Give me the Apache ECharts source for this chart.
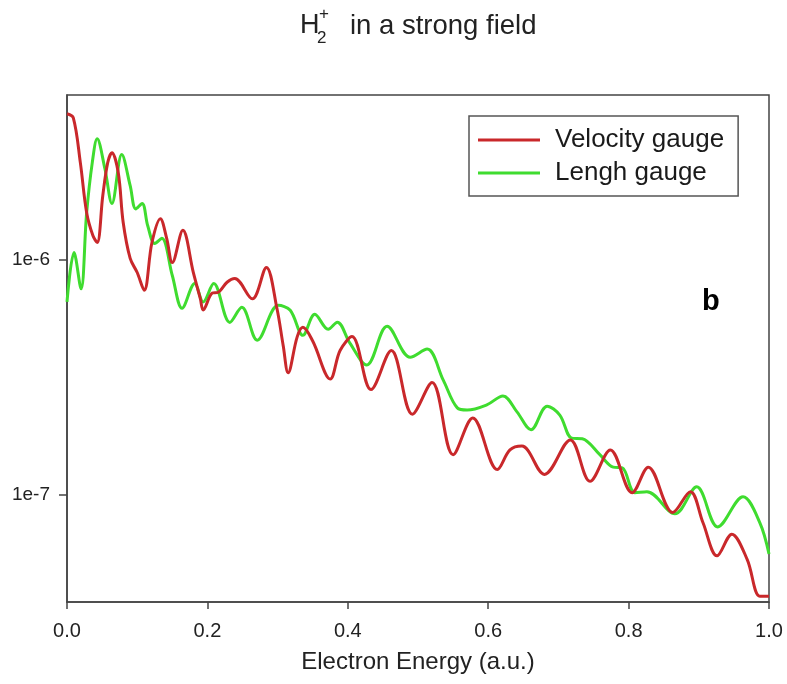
<!DOCTYPE html>
<html>
<head>
<meta charset="utf-8">
<title>H2+ in a strong field</title>
<script src="https://cdn.jsdelivr.net/npm/echarts@6/dist/echarts.min.js"></script>
<style>
  html, body { margin: 0; padding: 0; background: #ffffff; }
  #chart { width: 787px; height: 684px; }
</style>
</head>
<body>
<div id="chart"></div>
<script>
// Photoelectron spectrum of H2+ : velocity vs length gauge (log scale)
const velocityEnergy = [
  0, 0.009, 0.019, 0.028, 0.037, 0.043, 0.051, 0.058, 0.064, 0.073,
  0.080, 0.090, 0.100, 0.110, 0.121, 0.133, 0.142, 0.150, 0.165, 0.180,
  0.190, 0.194, 0.207, 0.215, 0.228, 0.239, 0.264, 0.284, 0.299, 0.308,
  0.315, 0.328, 0.336, 0.350, 0.375, 0.389, 0.406, 0.433, 0.462, 0.492,
  0.520, 0.550, 0.578, 0.613, 0.631, 0.648, 0.680, 0.717, 0.745, 0.774,
  0.805, 0.828, 0.863, 0.888, 0.906, 0.926, 0.947, 0.969, 0.987, 1.0
];
const velocityYield = [
  4.16e-6, 4.0e-6, 2.58e-6, 1.58e-6, 1.26e-6, 1.18e-6, 1.87e-6, 2.58e-6, 2.84e-6, 2.34e-6,
  1.44e-6, 1.01e-6, 8.8e-7, 7.4e-7, 1.18e-6, 1.49e-6, 1.23e-6, 9.7e-7, 1.33e-6, 8.8e-7,
  6.8e-7, 6.1e-7, 7.2e-7, 7.25e-7, 8.0e-7, 8.3e-7, 6.8e-7, 9.25e-7, 6.2e-7, 4.3e-7,
  3.3e-7, 4.7e-7, 5.15e-7, 4.5e-7, 3.1e-7, 4.1e-7, 4.7e-7, 2.8e-7, 4.1e-7, 2.2e-7,
  3.0e-7, 1.48e-7, 2.12e-7, 1.28e-7, 1.55e-7, 1.61e-7, 1.22e-7, 1.71e-7, 1.14e-7, 1.55e-7,
  1.02e-7, 1.31e-7, 8.4e-8, 1.03e-7, 7.6e-8, 5.5e-8, 6.8e-8, 5.3e-8, 3.7e-8, 3.7e-8
];

const lengthEnergy = [
  0, 0.010, 0.020, 0.028, 0.036, 0.043, 0.054, 0.064, 0.078, 0.090,
  0.098, 0.107, 0.115, 0.125, 0.135, 0.150, 0.164, 0.182, 0.194, 0.209,
  0.232, 0.249, 0.271, 0.301, 0.318, 0.336, 0.353, 0.372, 0.385, 0.403,
  0.427, 0.456, 0.489, 0.513, 0.536, 0.556, 0.570, 0.598, 0.621, 0.641,
  0.661, 0.684, 0.702, 0.719, 0.734, 0.759, 0.778, 0.791, 0.809, 0.826,
  0.866, 0.897, 0.927, 0.963, 0.987, 1.0
];
const lengthYield = [
  6.6e-7, 1.07e-6, 7.5e-7, 1.58e-6, 2.58e-6, 3.26e-6, 2.43e-6, 1.73e-6, 2.79e-6, 2.06e-6,
  1.64e-6, 1.73e-6, 1.39e-6, 1.17e-6, 1.23e-6, 8.55e-7, 6.2e-7, 7.9e-7, 6.6e-7, 7.9e-7,
  5.4e-7, 6.26e-7, 4.54e-7, 6.38e-7, 6.08e-7, 4.76e-7, 5.85e-7, 5.05e-7, 5.41e-7, 4.41e-7,
  3.56e-7, 5.2e-7, 3.84e-7, 4.16e-7, 3.07e-7, 2.34e-7, 2.29e-7, 2.41e-7, 2.63e-7, 2.25e-7,
  1.89e-7, 2.38e-7, 2.18e-7, 1.74e-7, 1.73e-7, 1.48e-7, 1.31e-7, 1.30e-7, 1.02e-7, 1.03e-7,
  8.3e-8, 1.08e-7, 7.3e-8, 9.8e-8, 7.6e-8, 5.6e-8
];

const seriesNames = ['Velocity gauge', 'Lengh gauge'];
const seriesColors = ['#c9282b', '#3fdc2f'];
const yTickValues = [1e-7, 1e-6];
const xTickStep = 0.2;

function pairs(xs, ys) {
  return xs.map((x, i) => [x, ys[i]]);
}

const FONT = '"Liberation Sans", Arial, sans-serif';
const chart = echarts.init(document.getElementById('chart'), null, { renderer: 'canvas' });

chart.setOption({
  backgroundColor: '#ffffff',
  animation: false,
  grid: {
    left: 67, right: 18, top: 95, bottom: 82,
    containLabel: false,
    show: true,
    borderColor: '#444',
    borderWidth: 1.5,
    backgroundColor: 'transparent'
  },
  legend: {
    orient: 'vertical',
    left: 469,
    top: 116,
    padding: [9, 14, 8, 9],
    itemGap: 3,
    itemWidth: 62,
    itemHeight: 3,
    icon: 'rect',
    borderColor: '#555',
    borderWidth: 1.5,
    backgroundColor: '#ffffff',
    textStyle: {
      fontFamily: FONT,
      fontSize: 26,
      color: '#1a1a1a',
      lineHeight: 30,
      padding: [0, 0, 0, 10]
    },
    data: seriesNames
  },
  xAxis: {
    type: 'value',
    min: 0,
    max: 1,
    interval: xTickStep,
    name: 'Electron Energy (a.u.)',
    nameLocation: 'middle',
    nameGap: 48,
    nameTextStyle: { fontFamily: FONT, fontSize: 24, color: '#222' },
    axisLine: { show: true, lineStyle: { color: '#444', width: 1.5 } },
    axisTick: { show: true, inside: false, length: 7, lineStyle: { color: '#444', width: 1.5 } },
    axisLabel: {
      fontFamily: FONT, fontSize: 20, color: '#222', margin: 19,
      formatter: v => v.toFixed(1)
    },
    splitLine: { show: false }
  },
  yAxis: {
    type: 'log',
    logBase: 10,
    min: 3.5e-8,
    max: 5e-6,
    axisLine: { show: true, lineStyle: { color: '#444', width: 1.5 } },
    axisTick: { show: true, inside: false, length: 8, customValues: yTickValues, lineStyle: { color: '#444', width: 1.5 } },
    axisLabel: {
      fontFamily: FONT, fontSize: 19, color: '#222', margin: 17,
      customValues: yTickValues,
      formatter: v => '1e' + Math.round(Math.log10(v))
    },
    splitLine: { show: false },
    minorTick: { show: false }
  },
  graphic: [
    { type: 'text', left: 300, top: 12, style: { text: 'H', font: '27px ' + FONT, fill: '#222' } },
    { type: 'text', left: 317, top: 30, style: { text: '2', font: '17px ' + FONT, fill: '#222' } },
    { type: 'text', left: 319, top: 6, style: { text: '+', font: '17px ' + FONT, fill: '#222' } },
    { type: 'text', left: 350, top: 12, style: { text: 'in a strong field', font: '27.5px ' + FONT, fill: '#222' } },
    { type: 'text', left: 702, top: 287, style: { text: 'b', font: 'bold 29px ' + FONT, fill: '#000' } }
  ],
  series: [
    {
      name: seriesNames[0],
      type: 'line',
      data: pairs(velocityEnergy, velocityYield),
      smooth: 0.35,
      symbol: 'none',
      clip: true,
      lineStyle: { color: seriesColors[0], width: 3 },
      itemStyle: { color: seriesColors[0] },
      z: 3
    },
    {
      name: seriesNames[1],
      type: 'line',
      data: pairs(lengthEnergy, lengthYield),
      smooth: 0.35,
      symbol: 'none',
      clip: true,
      lineStyle: { color: seriesColors[1], width: 3 },
      itemStyle: { color: seriesColors[1] },
      z: 2
    }
  ]
});
</script>
</body>
</html>
